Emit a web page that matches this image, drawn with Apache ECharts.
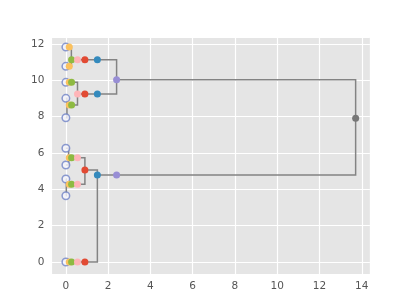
<!DOCTYPE html>
<html>
<head>
<meta charset="utf-8">
<script src="https://cdn.jsdelivr.net/npm/echarts@6/dist/echarts.min.js"></script>
<style>
html,body{margin:0;padding:0;background:#fff;}
#chart{width:411px;height:308px;}
</style>
</head>
<body>
<div id="chart"></div>
<script>
// ---- data ----
const leafY = [11.83, 10.77, 9.89, 9.01, 7.94, 6.26, 5.34, 4.57, 3.65, 0.0];
// merges (node index = 10 + merge index); children are leaf or node indices
const mergeLeft   = [0, 3, 5, 7, 2, 12, 10, 15, 16];
const mergeRight  = [1, 4, 6, 8, 11, 13, 14, 9, 17];
const mergeHeight = [0.26, 0.05, 0.13, 0.02, 0.55, 0.9, 2.4, 1.49, 13.71];
const mergeY      = [11.13, 8.64, 5.74, 4.28, 9.25, 5.06, 10.03, 4.79, 7.91];
// cut levels at which clusters are marked
const levelHeights = [0.16, 0.27, 0.55, 0.9, 1.49, 2.4, 13.71];
const xTicks = [0, 2, 4, 6, 8, 10, 12, 14];
const yTicks = [0, 2, 4, 6, 8, 10, 12];

// ---- styles ----
const levelColors = ['#FBC15E', '#8EBA42', '#FFB5B8', '#E24A33', '#348ABD', '#988ED5', '#777777'];

const nLeaf = leafY.length;
const nNode = nLeaf + mergeHeight.length;
const nodeH = [], nodeY = [], parentH = [];
for (let i = 0; i < nNode; i++) {
  if (i < nLeaf) { nodeH[i] = 0; nodeY[i] = leafY[i]; }
  else { nodeH[i] = mergeHeight[i - nLeaf]; nodeY[i] = mergeY[i - nLeaf]; }
  parentH[i] = Infinity;
}
mergeHeight.forEach((h, m) => { parentH[mergeLeft[m]] = h; parentH[mergeRight[m]] = h; });

const linkData = mergeHeight.map((h, m) => {
  const a = mergeLeft[m], b = mergeRight[m];
  return { coords: [[nodeH[a], nodeY[a]], [h, nodeY[a]], [h, nodeY[b]], [nodeH[b], nodeY[b]]] };
});

const series = [{
  type: 'lines', coordinateSystem: 'cartesian2d', polyline: true,
  data: linkData, silent: true, z: 2,
  lineStyle: { color: '#838383', width: 1.5, opacity: 1 }
}];

series.push({
  type: 'scatter', data: leafY.map(y => [0, y]), symbol: 'circle', symbolSize: 7.5, z: 3,
  itemStyle: { color: '#f6f6fc', borderColor: '#6f82c6', borderWidth: 1.5 }
});

levelHeights.forEach((L, li) => {
  const pts = [];
  for (let i = 0; i < nNode; i++) {
    if (nodeH[i] <= L && parentH[i] > L) pts.push([L, nodeY[i]]);
  }
  series.push({
    type: 'scatter', data: pts, symbol: 'circle', symbolSize: 7, z: 4 + li,
    itemStyle: { color: levelColors[li], opacity: 1 }
  });
});

const chart = echarts.init(document.getElementById('chart'), null, { renderer: 'canvas' });
const axisCommon = {
  type: 'value',
  axisLine: { show: false },
  axisTick: { show: false },
  splitLine: { show: true, lineStyle: { color: '#ffffff', width: 1.2 } },
  axisLabel: { color: '#555555', fontSize: 10.5, fontFamily: 'DejaVu Sans', showMinLabel: false, showMaxLabel: false }
};
chart.setOption({
  animation: false,
  backgroundColor: '#ffffff',
  grid: { left: 51.4, right: 41.1, top: 37, bottom: 34, show: true, backgroundColor: '#E5E5E5', borderWidth: 0 },
  xAxis: Object.assign({}, axisCommon, {
    min: -0.685, max: 14.385, splitNumber: 7,
    axisLabel: Object.assign({}, axisCommon.axisLabel, { margin: 7,
      formatter: v => xTicks.includes(Math.round(v * 1000) / 1000) ? String(Math.round(v)) : '' })
  }),
  yAxis: Object.assign({}, axisCommon, {
    min: -0.66, max: 12.385, splitNumber: 6,
    axisLabel: Object.assign({}, axisCommon.axisLabel, { margin: 7,
      formatter: v => yTicks.includes(Math.round(v * 1000) / 1000) ? String(Math.round(v)) : '' })
  }),
  series: series
});
</script>
</body>
</html>
